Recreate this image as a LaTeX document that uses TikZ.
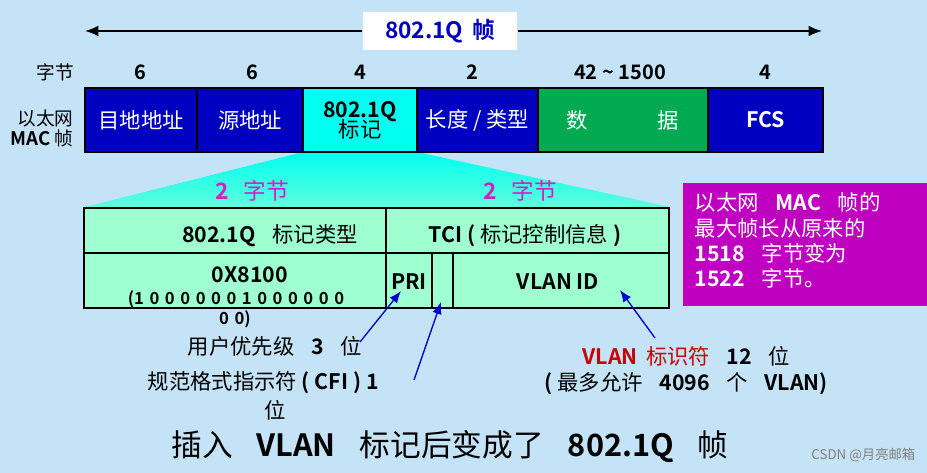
\documentclass[tikz,border=0pt]{standalone}
\usepackage{fontspec}
\setmainfont{Noto Sans CJK SC}[BoldFont={Noto Sans CJK SC Bold}]
\usetikzlibrary{arrows.meta}
\definecolor{bg}{HTML}{C5E3F6}
\definecolor{fblue}{HTML}{0000C0}
\definecolor{fgreen}{HTML}{00AA50}
\definecolor{fcyan}{HTML}{00FFF0}
\definecolor{lgreen}{HTML}{9EFFD0}
\definecolor{mag}{HTML}{C000C0}
\definecolor{tmag}{HTML}{D020C0}
\begin{document}
\begin{tikzpicture}[x=0.75pt,y=-0.75pt,
  cell/.style={draw=black,line width=1.5pt},
  wt/.style={text=white,font=\bfseries\fontsize{15}{17}\selectfont},
  bt/.style={text=black,font=\bfseries\fontsize{16}{18}\selectfont},
  ann/.style={-{Latex[length=9pt,width=7pt]},draw=blue!80!black,line width=1pt}]
\fill[bg] (0,0) rectangle (927,473);
\useasboundingbox (0,0) rectangle (927,473);
% top arrow
\node[fill=white,minimum width=116pt,minimum height=28pt,text=fblue,font=\bfseries\fontsize{17}{18}\selectfont] (title) at (440,31) {802.1Q\, 帧};
\coordinate (al) at (85,31); \coordinate (ar) at (822,31);
\draw[line width=1.2pt,-{Latex[length=10pt,width=8pt]}] (title.west) -- (al);
\draw[line width=1.2pt,-{Latex[length=10pt,width=8pt]}] (title.east) -- (ar);
% byte counts
\foreach \x/\t in {140/6,252/6,360/4,472/2,620/42 \textasciitilde{} 1500,765/4}
  \node[bt,font=\bfseries\fontsize{15}{16}\selectfont] at (\x,72) {\t};
\node[bt,font=\fontsize{14}{16}\selectfont] at (55,72) {字节};
\node[bt,align=right,font=\fontsize{14}{15}\selectfont,inner sep=0pt] (lab) at (42,128) {以太网\\\textbf{MAC} 帧};
% frame
\shade[top color=fcyan,bottom color=lgreen!60!fcyan] (303,152) -- (417,152) -- (670,207) -- (85,207) -- cycle;
\draw[cell,fill=fblue] (85,88) rectangle node[wt,font=\fontsize{16}{18}\selectfont] {目地地址} (197,152);
\draw[cell,fill=fblue] (197,88) rectangle node[wt,font=\fontsize{16}{18}\selectfont] {源地址} (303,152);
\draw[cell,fill=fcyan] (303,88) rectangle node[bt,align=center,inner sep=0pt] {802.1Q\\[-3pt]{\mdseries 标记}} (417,152);
\draw[cell,fill=fblue] (417,88) rectangle node[wt,font=\fontsize{16}{18}\selectfont] {长度 / 类型} (538,152);
\draw[cell,fill=fgreen] (538,88) rectangle (708,152);
\node[wt,font=\fontsize{16}{18}\selectfont] at (577,120) {数};
\node[wt,font=\fontsize{16}{18}\selectfont] at (668,120) {据};
\draw[cell,fill=fblue] (708,88) rectangle node[wt,font=\bfseries\fontsize{16}{18}\selectfont] {FCS} (823,152);
% 2 bytes labels
\node[text=tmag,font=\bfseries\fontsize{17}{18}\selectfont] at (252,191) {2\;\, {\mdseries 字节}};
\node[text=tmag,font=\bfseries\fontsize{17}{18}\selectfont] at (520,191) {2\;\, {\mdseries 字节}};
% lower table
\draw[cell,fill=lgreen] (84,208) rectangle (669,308);
\draw[cell] (84,253) -- (669,253);
\draw[cell] (386,208) -- (386,308);
\draw[cell] (432,253) -- (432,308);
\draw[cell] (453,253) -- (453,308);
\node[bt] at (270,236) {802.1Q\;\; {\mdseries 标记类型}};
\node[bt] at (525,236) {TCI ( {\mdseries 标记控制信息} )};
\node[bt] at (250,275) {0X8100};
\node[bt,font=\bfseries\fontsize{12.5}{13}\selectfont] at (236,299) {(1\,\,0\,\,0\,\,0\,\,0\,\,0\,\,0\,\,1\,\,0\,\,0\,\,0\,\,0\,\,0\,\,0};
\node[bt,font=\bfseries\fontsize{12.5}{13}\selectfont] at (235,319) {0\,\,0)};
\node[bt] (pri) at (409,282) {PRI};
\coordinate (pritip) at (401,291);
\coordinate (cfi) at (441,302);
\node[bt] (vid) at (558,282) {VLAN ID};
% purple box
\node[fill=mag,minimum width=183pt,minimum height=92pt,anchor=north west,inner sep=0pt] (note) at (683,183) {};
\node[text=white,align=left,anchor=north west,font=\bfseries\fontsize{16}{19}\selectfont] at (690,188) {{\mdseries 以太网}\;\; MAC\;\; {\mdseries 帧的}\\{\mdseries 最大帧长从原来的}\\1518\;\; {\mdseries 字节变为}\\1522\;\; {\mdseries 字节。}};
% annotations
\node[bt,anchor=west] (a1) at (183,346) {{\mdseries 用户优先级}\;\; 3\;\; {\mdseries 位}};
\node[bt,anchor=west] (a2) at (143,383) {{\mdseries 规范格式指示符} ( CFI ) 1};
\node[bt] at (275,410) {{\mdseries 位}};
\node[bt,anchor=west] (a3) at (578,356) {\textcolor{red!80!black}{VLAN\, {\mdseries 标识符}}\;\; 12\;\; {\mdseries 位}};
\node[bt,anchor=west] (a4) at (540,384) {( {\mdseries 最多允许}\;\; 4096\;\; {\mdseries 个}\;\; VLAN)};
\coordinate (s1) at (360,342); \coordinate (s2) at (414,380); \coordinate (s3) at (655,338);
\coordinate (vtip) at (620,290);
\draw[ann] (s1) -- (pritip);
\draw[ann] (s2) -- (cfi);
\draw[ann] (s3) -- (vtip);
\node[bt,font=\bfseries\fontsize{23}{26}\selectfont] at (450,447) {{\mdseries 插入}\;\; VLAN\;\; {\mdseries 标记后变成了}\;\; 802.1Q\;\; {\mdseries 帧}};
\node[text=gray,font=\fontsize{10}{12}\selectfont,anchor=east] at (920,455) {CSDN @月亮邮箱};
\end{tikzpicture}
\end{document}
